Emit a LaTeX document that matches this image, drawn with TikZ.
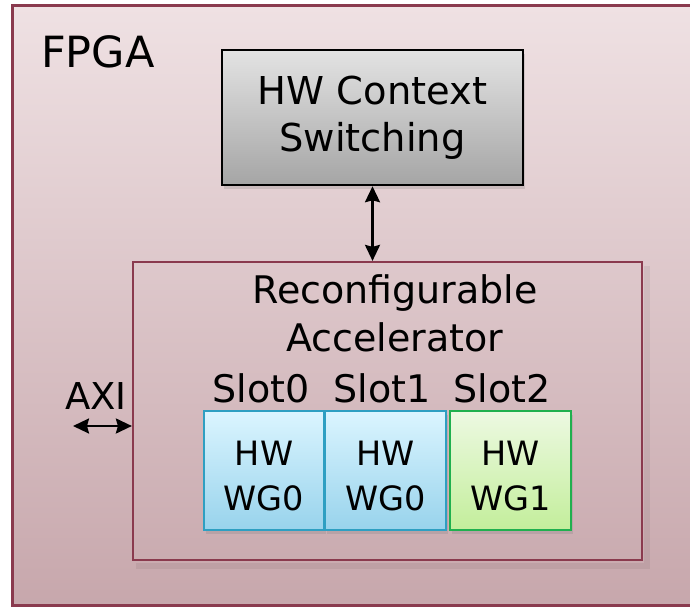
\documentclass[tikz,border=0pt]{standalone}
\usepackage{fontspec}
\setmainfont{DejaVu Sans}
\usetikzlibrary{arrows.meta,shadows}
\definecolor{bgtop}{HTML}{EFE1E3}
\definecolor{bgbot}{HTML}{C7A7AC}
\definecolor{maroon}{HTML}{8A3A4E}
\definecolor{ctxtop}{HTML}{E3E3E3}
\definecolor{ctxbot}{HTML}{A5A5A5}
\definecolor{bluetop}{HTML}{DBF5FF}
\definecolor{bluebot}{HTML}{98D3EC}
\definecolor{blueedge}{HTML}{2E9FC2}
\definecolor{greentop}{HTML}{EDF9E2}
\definecolor{greenbot}{HTML}{C3EE9B}
\definecolor{greenedge}{HTML}{1FB04E}
\tikzset{
  fpgabox/.style={draw=maroon, line width=3pt, top color=bgtop, bottom color=bgbot, inner sep=0pt},
  ctxbox/.style={draw=black, line width=2.5pt, top color=ctxtop, bottom color=ctxbot,
    align=center, font=\fontsize{38.4}{47}\selectfont,
    drop shadow={shadow xshift=2pt, shadow yshift=-4pt, opacity=0.25}},
  raccbox/.style={draw=maroon, line width=2.2pt, inner sep=0pt},
  slotbox/.style={line width=2.2pt, align=center, font=\fontsize{33.5}{45}\selectfont,
    drop shadow={shadow xshift=2pt, shadow yshift=-4pt, opacity=0.25}},
  bluebox/.style={slotbox, draw=blueedge, top color=bluetop, bottom color=bluebot},
  greenbox/.style={slotbox, draw=greenedge, top color=greentop, bottom color=greenbot},
  lbl/.style={inner sep=0pt, font=\fontsize{38}{48}\selectfont},
  dblarrow/.style={line width=2.3pt, {Stealth[length=16pt,width=15pt,inset=2pt]}-{Stealth[length=16pt,width=15pt,inset=2pt]}}
}
\begin{document}
\begin{tikzpicture}[x=1pt,y=-1pt]
\useasboundingbox (0,0) rectangle (690,609);
\clip (0,0) rectangle (690,609);
\fill[white] (0,0) rectangle (690,609);
\node[fpgabox, minimum width=688pt, minimum height=599pt] (fpga) at (356,305.5) {};
\node[lbl, anchor=base west, font=\fontsize{43}{48}\selectfont] (fpgalbl) at (41,68) {FPGA};
\node[ctxbox, minimum width=301pt, minimum height=135pt, inner sep=0pt] (ctx) at (372.5,117.5) {HW Context\\Switching};
\draw[black, opacity=0.06, line width=6pt] (136,566) -- (647,566) -- (647,266);
\node[raccbox, minimum width=509pt, minimum height=298pt] (racc) at (387.5,411) {};
\node[lbl, align=center] (racclbl) at (395,313.5) {Reconfigurable\\Accelerator};
\node[lbl, anchor=base] (slot0) at (261,402) {Slot0};
\node[lbl, anchor=base] (slot1) at (382,402) {Slot1};
\node[lbl, anchor=base] (slot2) at (502,402) {Slot2};
\node[lbl, anchor=base, font=\fontsize{37}{44}\selectfont] (axi) at (96,409) {AXI};
\coordinate (axiend) at (73,426);
\node[bluebox, minimum width=120pt, minimum height=119pt, inner sep=0pt] (wg0a) at (264,470.5) {\rule{0pt}{35pt}HW\\WG0};
\node[bluebox, minimum width=121pt, minimum height=119pt, inner sep=0pt] (wg0b) at (385.5,470.5) {\rule{0pt}{35pt}HW\\WG0};
\node[greenbox, minimum width=121pt, minimum height=119pt, inner sep=0pt] (wg1) at (510.5,470.5) {\rule{0pt}{35pt}HW\\WG1};
\draw[dblarrow] (ctx.south) -- (ctx.south |- racc.north);
\draw[dblarrow] (axiend) -- (axiend -| racc.west);
\end{tikzpicture}
\end{document}
